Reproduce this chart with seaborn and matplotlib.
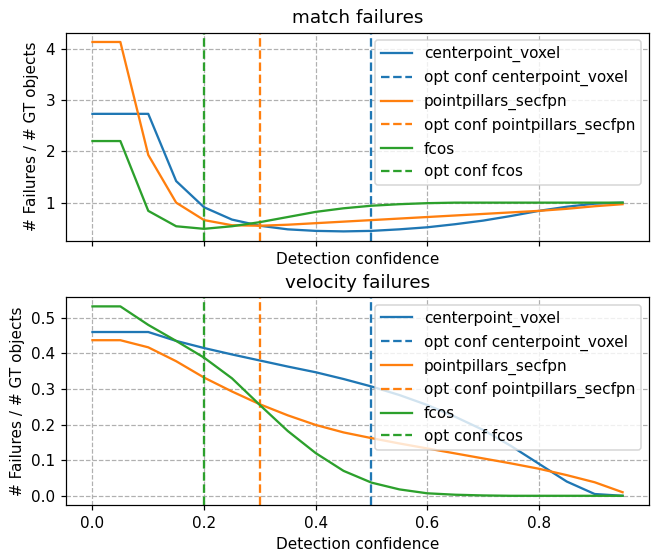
import numpy as np
import pandas as pd
import seaborn as sns
import matplotlib
matplotlib.use("Agg")
import matplotlib.pyplot as plt
from matplotlib.ticker import MultipleLocator

conf = [0.0, 0.05, 0.1, 0.15, 0.2, 0.25, 0.3, 0.35, 0.4, 0.45,
        0.5, 0.55, 0.6, 0.65, 0.7, 0.75, 0.8, 0.85, 0.9, 0.95]

models = ["centerpoint_voxel", "pointpillars_secfpn", "fcos"]
opt_conf = [0.5, 0.3, 0.2]
colors = ["#1f77b4", "#ff7f0e", "#2ca02c"]

match_centerpoint = [2.73, 2.73, 2.73, 1.42, 0.91, 0.67, 0.55, 0.48, 0.45, 0.44,
                     0.45, 0.48, 0.52, 0.58, 0.65, 0.74, 0.84, 0.92, 0.98, 1.0]
match_pointpillars = [4.13, 4.13, 1.93, 1.0, 0.66, 0.56, 0.55, 0.57, 0.60, 0.63,
                      0.66, 0.69, 0.72, 0.75, 0.78, 0.81, 0.84, 0.88, 0.93, 0.97]
match_fcos = [2.2, 2.2, 0.84, 0.54, 0.49, 0.54, 0.62, 0.72, 0.82, 0.89,
              0.94, 0.97, 0.99, 1.0, 1.0, 1.0, 1.0, 1.0, 1.0, 1.0]

vel_centerpoint = [0.46, 0.46, 0.46, 0.435, 0.415, 0.397, 0.38, 0.363, 0.347, 0.328,
                   0.307, 0.283, 0.255, 0.222, 0.185, 0.14, 0.09, 0.04, 0.005, 0.0]
vel_pointpillars = [0.437, 0.437, 0.417, 0.378, 0.332, 0.293, 0.257, 0.226, 0.199, 0.178,
                    0.162, 0.147, 0.133, 0.119, 0.105, 0.091, 0.076, 0.058, 0.038, 0.01]
vel_fcos = [0.532, 0.532, 0.48, 0.435, 0.388, 0.33, 0.255, 0.182, 0.12, 0.07,
            0.037, 0.018, 0.007, 0.003, 0.001, 0.0, 0.0, 0.0, 0.0, 0.0]

panels = [
    ("match failures", [match_centerpoint, match_pointpillars, match_fcos], 1.0),
    ("velocity failures", [vel_centerpoint, vel_pointpillars, vel_fcos], 0.1),
]

dpi = 110
fig, axes = plt.subplots(2, 1, figsize=(653 / dpi, 551 / dpi), dpi=dpi, sharex=True)

for ax, (title, series, ystep) in zip(axes, panels):
    for name, vals, oc, col in zip(models, series, opt_conf, colors):
        df = pd.DataFrame({"conf": conf, "val": vals})
        sns.lineplot(data=df, x="conf", y="val", color=col, label=name, ax=ax)
        ax.axvline(oc, color=col, linestyle="--", label="opt conf " + name)
    ax.set_title(title)
    ax.set_xlabel("Detection confidence")
    ax.xaxis.label.set_visible(True)
    ax.set_ylabel("# Failures / # GT objects")
    ax.yaxis.set_major_locator(MultipleLocator(ystep))
    ax.xaxis.set_major_locator(MultipleLocator(0.2))
    ax.grid(True, linestyle="--", color="#b0b0b0", linewidth=0.8)
    ax.legend(loc="upper right")
    ax.xaxis.set_tick_params(labelbottom=(ax is axes[1]))

fig.subplots_adjust(left=0.101, right=0.994, top=0.941, bottom=0.083, hspace=0.269)
plt.savefig("out.png", dpi=dpi)
